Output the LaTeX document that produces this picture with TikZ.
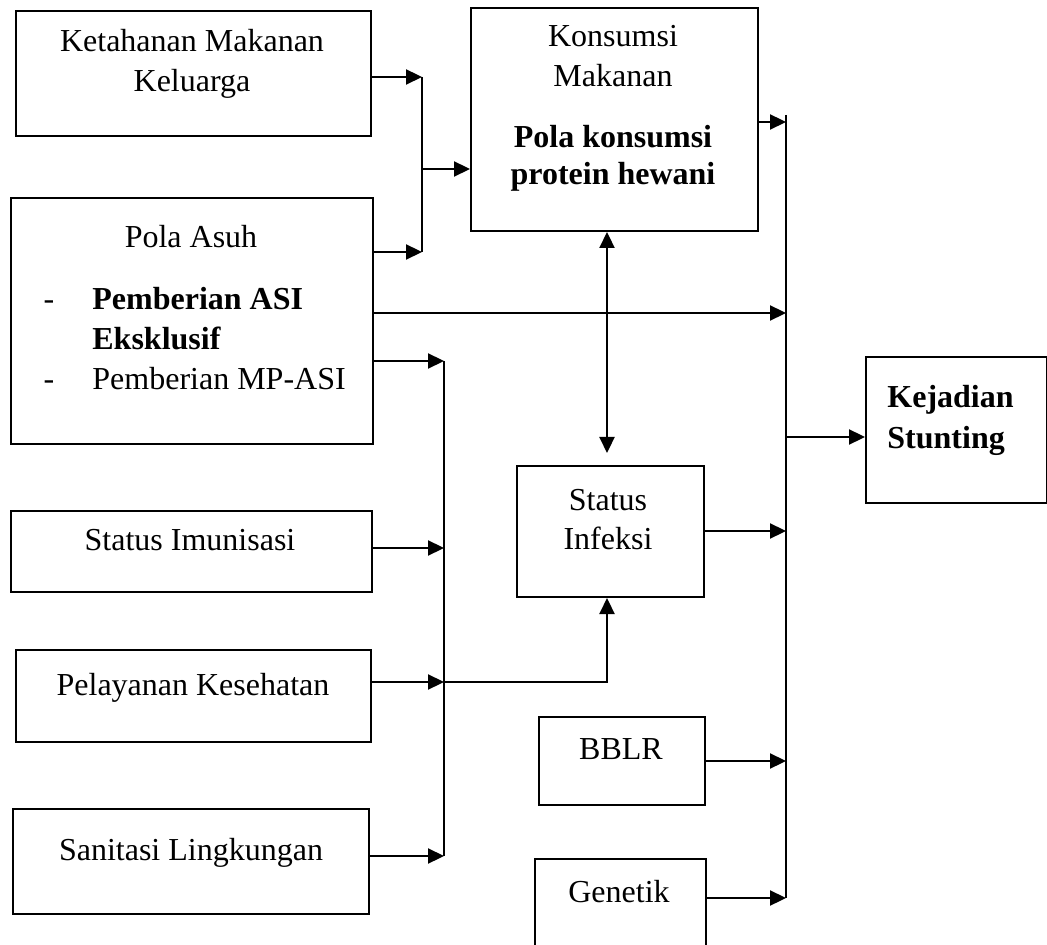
\documentclass[tikz,border=0pt]{standalone}
\usepackage{fontspec}
\setmainfont{Liberation Serif}
\usetikzlibrary{arrows.meta}

\begin{document}
\begin{tikzpicture}[x=0.5pt,y=-0.5pt,
		kotak/.style={draw, line width=1pt, inner sep=0pt, anchor=north west},
		teks/.style={font=\fontsize{16}{20}\selectfont, inner sep=0pt, anchor=base},
		tebal/.style={teks, font=\fontsize{16}{20}\selectfont\bfseries},
		garis/.style={line width=1.1pt},
		panah/.style={line width=1.1pt, -{Triangle[length=8pt,width=7.5pt]}}]

		\clip (0,0) rectangle (1047,945);

		% kotak
		\node[kotak, minimum width=177.5pt, minimum height=62.5pt] (ketahanan) at (15,10) {};
		\node[kotak, minimum width=181pt, minimum height=123pt] (polaasuh) at (10,197) {};
		\node[kotak, minimum width=143.5pt, minimum height=111.5pt] (konsumsi) at (470,7) {};
		\node[kotak, minimum width=180.5pt, minimum height=40.5pt] (imunisasi) at (10,510) {};
		\node[kotak, minimum width=177.5pt, minimum height=46pt] (pelayanan) at (15,649) {};
		\node[kotak, minimum width=178pt, minimum height=52.5pt] (sanitasi) at (12,808) {};
		\node[kotak, minimum width=93.5pt, minimum height=65.5pt] (infeksi) at (516,465) {};
		\node[kotak, minimum width=83pt, minimum height=44pt] (bblr) at (538,716) {};
		\node[kotak, minimum width=85.5pt, minimum height=51pt] (genetik) at (534,858) {};
		\node[kotak, minimum width=90.5pt, minimum height=73pt] (kejadian) at (865,356) {};

		% teks
		\node[teks] (tKet1) at (192,52) {Ketahanan Makanan};
		\node[teks] (tKet2) at (192,92) {Keluarga};
		\node[teks] (tAsuh) at (191,248) {Pola Asuh};
		\node[teks] (tDash1) at (49,310) {-};
		\node[tebal, anchor=base west] (tAsi1) at (92,310) {Pemberian ASI};
		\node[tebal, anchor=base west] (tAsi2) at (92,350) {Eksklusif};
		\node[teks] (tDash2) at (49,390) {-};
		\node[teks, anchor=base west] (tMpasi) at (92,390) {Pemberian MP-ASI};
		\node[teks] (tKons1) at (613,47) {Konsumsi};
		\node[teks] (tKons2) at (613,87) {Makanan};
		\node[tebal] (tPola1) at (613,148) {Pola konsumsi};
		\node[tebal] (tPola2) at (613,185) {protein hewani};
		\node[teks] (tImun) at (190,550) {Status Imunisasi};
		\node[teks] (tPel) at (193,695) {Pelayanan Kesehatan};
		\node[teks] (tSan) at (191,860) {Sanitasi Lingkungan};
		\node[teks] (tInf1) at (608,510) {Status};
		\node[teks] (tInf2) at (608,549) {Infeksi};
		\node[teks] (tBblr) at (621,759) {BBLR};
		\node[teks] (tGen) at (619,902) {Genetik};
		\node[tebal, anchor=base west] (tKej1) at (887,408) {Kejadian};
		\node[tebal, anchor=base west] (tKej2) at (887,449) {Stunting};

		% titik cabang
		\coordinate (a1) at (422,77);
		\coordinate (a2) at (422,252);
		\coordinate (a3) at (422,169);
		\coordinate (b1) at (444,361);
		\coordinate (b2) at (444,856);
		\coordinate (bImun) at (444,548);
		\coordinate (bPel) at (444,682);
		\coordinate (c1) at (786,115);
		\coordinate (c2) at (786,898);
		\coordinate (cKons) at (786,122);
		\coordinate (cAsuh) at (786,313);
		\coordinate (cKej) at (786,437);
		\coordinate (cInf) at (786,531);
		\coordinate (cBblr) at (786,761);
		\coordinate (d) at (607,0);

		\draw[garis] (a1)--(a2);
		\draw[panah] (ketahanan.east |- a1)--(a1);
		\draw[panah] (polaasuh.east |- a2)--(a2);
		\draw[panah] (a3)--(konsumsi.west |- a3);

		\draw[garis] (b1)--(b2);
		\draw[panah] (polaasuh.east |- b1)--(b1);
		\draw[panah] (imunisasi.east |- bImun)--(bImun);
		\draw[panah] (pelayanan.east |- bPel)--(bPel);
		\draw[panah] (sanitasi.east |- b2)--(b2);
		\draw[panah] (bPel) -| (infeksi.south -| d);

		\draw[panah, {Triangle[length=8pt,width=7.5pt]}-{Triangle[length=8pt,width=7.5pt]}, shorten >=6pt] (konsumsi.south -| d)--(infeksi.north -| d);

		\draw[garis] (c1)--(c2);
		\draw[panah] (konsumsi.east |- cKons)--(cKons);
		\draw[panah] (polaasuh.east |- cAsuh)--(cAsuh);
		\draw[panah] (infeksi.east |- cInf)--(cInf);
		\draw[panah] (bblr.east |- cBblr)--(cBblr);
		\draw[panah] (genetik.east |- c2)--(c2);
		\draw[panah] (cKej)--(kejadian.west |- cKej);

	\end{tikzpicture}
\end{document}
